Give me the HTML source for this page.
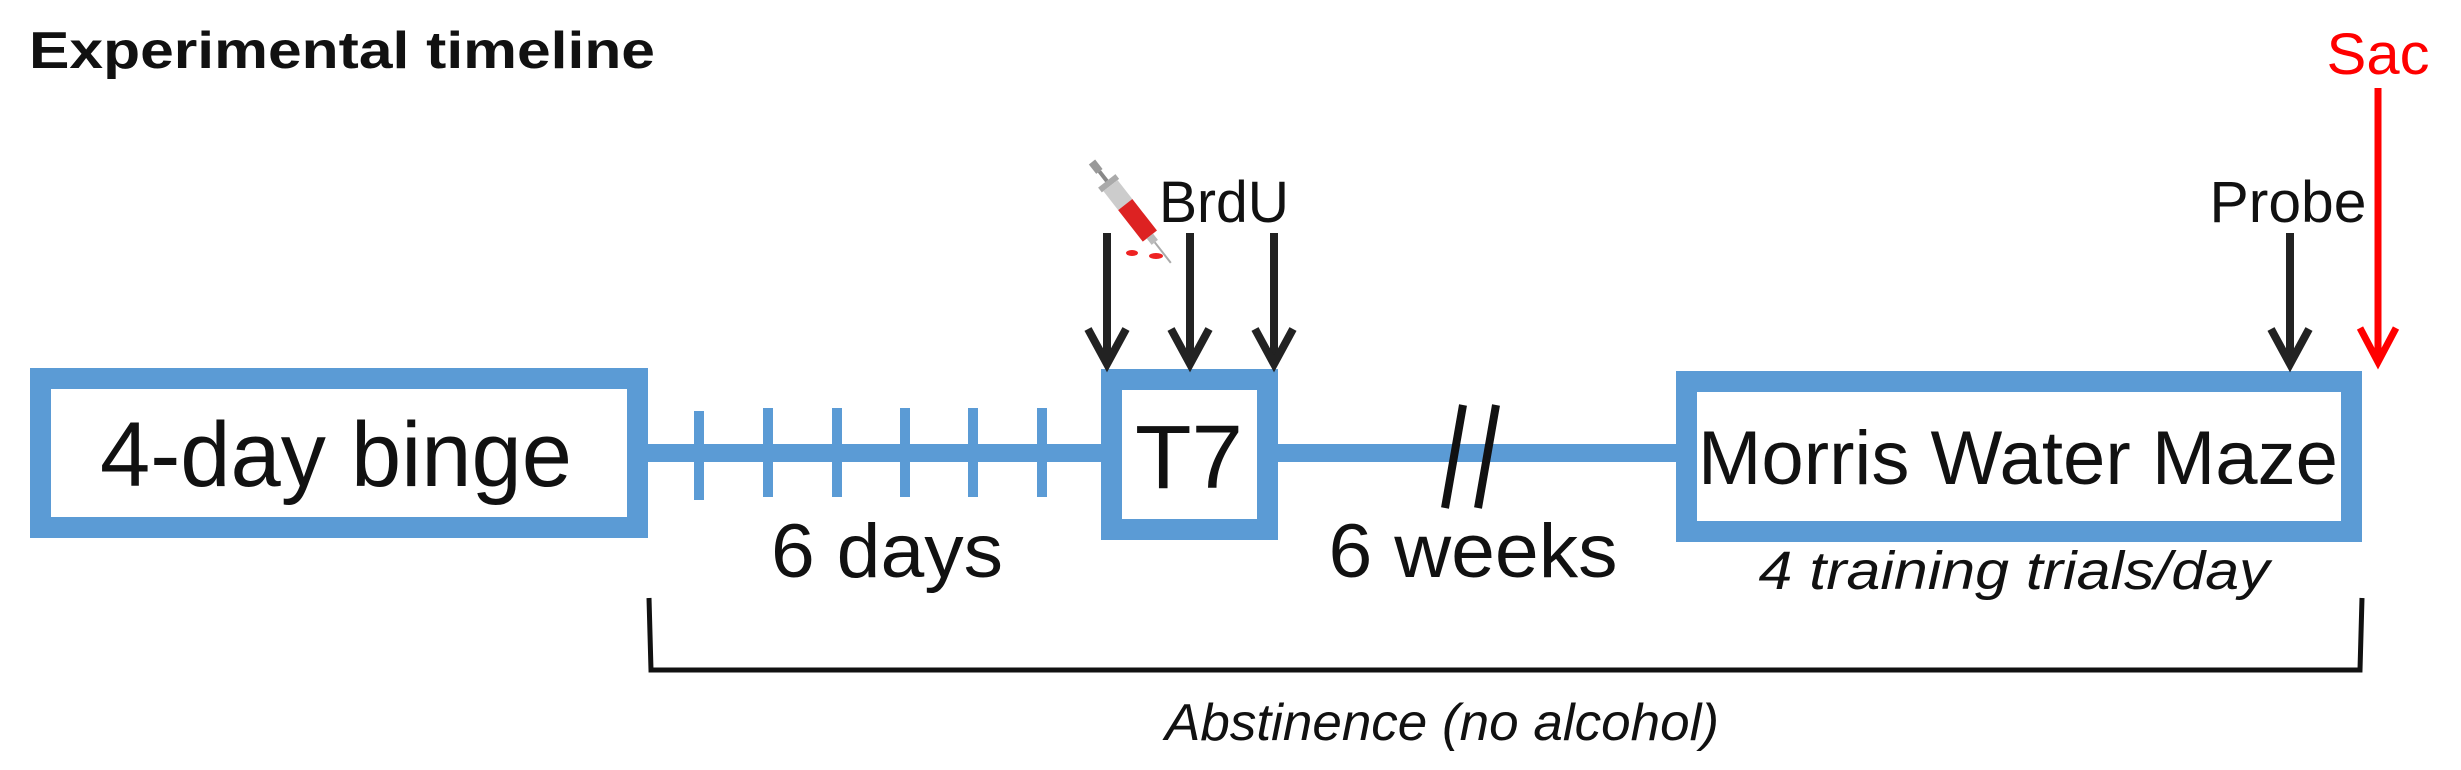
<!DOCTYPE html>
<html><head><meta charset="utf-8"><style>html,body{margin:0;padding:0;background:#fff}svg{display:block}text{font-family:"Liberation Sans",Arial,sans-serif}</style></head>
<body>
<svg width="2461" height="770" viewBox="0 0 2461 770" xmlns="http://www.w3.org/2000/svg">
<text x="29" y="68" font-size="52" font-weight="bold" fill="#111" textLength="626" lengthAdjust="spacingAndGlyphs">Experimental timeline</text>
<g fill="none" stroke="#5B9BD5">
<rect x="40.5" y="378.5" width="597" height="149" stroke-width="21"/>
<rect x="1111.5" y="379.5" width="156" height="150" stroke-width="21"/>
<rect x="1686.5" y="381.5" width="665" height="150" stroke-width="21"/>
<line x1="648" y1="453" x2="1101" y2="453" stroke-width="18"/>
<line x1="1278" y1="453" x2="1676" y2="453" stroke-width="18"/>
<g stroke-width="10">
<line x1="699" y1="411" x2="699" y2="500"/>
<line x1="768" y1="408" x2="768" y2="497"/>
<line x1="837" y1="408" x2="837" y2="497"/>
<line x1="905" y1="408" x2="905" y2="497"/>
<line x1="973" y1="408" x2="973" y2="497"/>
<line x1="1042" y1="408" x2="1042" y2="497"/>
</g>
</g>
<g stroke="#111" stroke-width="8" stroke-linecap="butt">
<line x1="1463" y1="405" x2="1445" y2="508"/>
<line x1="1496" y1="405" x2="1478" y2="508"/>
</g>
<text x="336" y="486" font-size="92" text-anchor="middle" fill="#111" textLength="472" lengthAdjust="spacingAndGlyphs">4-day binge</text>
<text x="1189" y="488" font-size="90" text-anchor="middle" fill="#111" textLength="108" lengthAdjust="spacingAndGlyphs">T7</text>
<text x="2018" y="484" font-size="76" text-anchor="middle" fill="#111" textLength="640" lengthAdjust="spacingAndGlyphs">Morris Water Maze</text>
<text x="887" y="577" font-size="76" text-anchor="middle" fill="#111" textLength="232" lengthAdjust="spacingAndGlyphs">6 days</text>
<text x="1473" y="577" font-size="76" text-anchor="middle" fill="#111" textLength="289" lengthAdjust="spacingAndGlyphs">6 weeks</text>
<text x="2014" y="589" font-size="54" font-style="italic" text-anchor="middle" fill="#111" textLength="511" lengthAdjust="spacingAndGlyphs">4 training trials/day</text>
<text x="1442" y="740" font-size="52" font-style="italic" text-anchor="middle" fill="#111" textLength="554" lengthAdjust="spacingAndGlyphs">Abstinence (no alcohol)</text>
<text x="1224" y="222" font-size="58" text-anchor="middle" fill="#111" textLength="130" lengthAdjust="spacingAndGlyphs">BrdU</text>
<text x="2288" y="222" font-size="58" text-anchor="middle" fill="#111" textLength="157" lengthAdjust="spacingAndGlyphs">Probe</text>
<text x="2378" y="74" font-size="58" text-anchor="middle" fill="#f00" textLength="103" lengthAdjust="spacingAndGlyphs">Sac</text>
<path d="M649 598 L651 670 L2360 670 L2362 598" fill="none" stroke="#111" stroke-width="5"/>
<g fill="none" stroke="#222" stroke-width="8">
<line x1="1107" y1="233" x2="1107" y2="364"/><polyline points="1088,329 1107,364 1126,329"/>
<line x1="1190" y1="233" x2="1190" y2="364"/><polyline points="1171,329 1190,364 1209,329"/>
<line x1="1274" y1="233" x2="1274" y2="364"/><polyline points="1255,329 1274,364 1293,329"/>
<line x1="2290" y1="233" x2="2290" y2="364"/><polyline points="2271,329 2290,364 2309,329"/>
</g>
<g fill="none" stroke="#f00" stroke-width="7">
<line x1="2378" y1="88" x2="2378" y2="362"/><polyline points="2360,328 2378,362 2396,328"/>
</g>
<g transform="translate(1092,162) rotate(52)">
<rect x="0" y="-4" width="12" height="8" fill="#999"/>
<rect x="12" y="-2" width="14" height="4" fill="#888"/>
<rect x="24" y="-11" width="6" height="22" fill="#aaa"/>
<rect x="30" y="-9" width="24" height="18" fill="#ccc"/>
<rect x="54" y="-9" width="40" height="18" fill="#d22"/>
<rect x="94" y="-4" width="8" height="8" fill="#bbb"/>
<line x1="102" y1="0" x2="128" y2="0" stroke="#aaa" stroke-width="2"/>
</g>
<ellipse cx="1132" cy="253" rx="6" ry="3" fill="#e22"/>
<ellipse cx="1156" cy="256" rx="7" ry="3" fill="#e22"/>
</svg>
</body></html>
